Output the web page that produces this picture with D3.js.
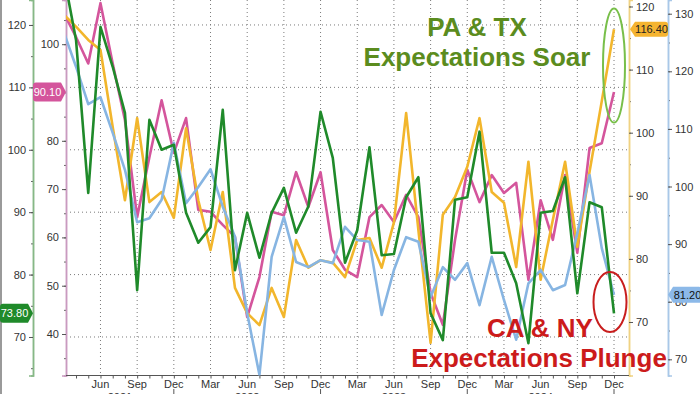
<!DOCTYPE html>
<html><head><meta charset="utf-8">
<script src="https://cdn.jsdelivr.net/npm/d3@7"></script>
<style>body{margin:0;background:#fff;} svg{display:block;font-family:"Liberation Sans",Arial,sans-serif;}</style>
</head><body><svg id="c" width="700" height="394"></svg>
<script>
const months = ["Mar","Apr","May","Jun","Jul","Aug","Sep","Oct","Nov","Dec",
  "Jan","Feb","Mar","Apr","May","Jun","Jul","Aug","Sep","Oct","Nov","Dec",
  "Jan","Feb","Mar","Apr","May","Jun","Jul","Aug","Sep","Oct","Nov","Dec",
  "Jan","Feb","Mar","Apr","May","Jun","Jul","Aug","Sep","Oct","Nov","Dec"];
const years = ["2021","2022","2023","2024"];
const labeledMonths = ["Mar","Jun","Sep","Dec"];
// CA-like (green, far-left axis)
const green = [128,117.6,93.1,119.7,113.3,105.9,77.5,104.8,100,100.8,89.9,85.1,87.6,106.4,80.7,89.9,82.7,89.9,93.9,86.7,90.9,106.1,98.7,81.9,87.1,100.4,83.1,83.3,92.4,95.6,73.8,69.5,92,92.4,102.9,83.5,83.5,78.6,69,89.9,90.2,95.6,77,91.6,90.8,73.8];
// pink (second left axis)
const pink = [106.4,101.5,96,108.5,96,84.3,64.2,76.6,88.4,77.5,84.7,65.7,65.3,62.6,60.1,43.5,51.8,65.3,64.6,73.5,66.3,73.5,57.4,53.3,51.8,64.2,66.7,63.2,68.8,64.2,48.5,41.9,59.5,74,67.3,72.9,69.2,71.3,51.2,67.7,59.5,72.9,56.8,78.5,79.5,90.1];
// orange (first right axis)
const orange = [118.7,116.8,114.7,113.1,100.9,89.3,102.3,89,90.6,86.5,100.7,89.3,81.4,90.6,75.4,71.4,69.5,75.4,70.8,83,78.6,79.8,79.4,77.1,83,83.3,78.6,85.8,103.1,84.6,66.7,87,89.8,94.6,102.3,90.6,88.9,78.7,95.4,76.7,86.2,95.4,81.9,93.8,105,116.4];
// blue (far right axis)
const blue = [126.8,120.8,114.3,115.5,109.3,102.9,93.8,94.5,97.7,107.6,97.1,99.9,103,96.5,91.3,78,67.3,87.8,94.7,86.9,86,87.2,86.7,93,90.7,90.4,77.7,85.5,91.2,90.4,80.8,86,83.8,86.7,79.4,87.8,80.3,73.4,83.2,85.5,82,82.9,91.9,102,89.3,81.2];
const greenTicks = [70,80,90,100,110,120];
const pinkTicks = [40,50,60,70,80,100];
const orangeTicks = [70,80,90,100,110,120];
const blueTicks = [70,80,90,100,110,120,130];

const svg = d3.select("#c");
const L = 66, R = 629, T = 0, B = 375.5;
const x = d3.scaleLinear().domain([0, months.length - 1]).range([63.8, 614]);
const yG = d3.scaleLinear().domain([63.83, 124.0]).range([B, T]);
const yP = d3.scaleLinear().domain([31.41, 109.15]).range([B, T]);
const yO = d3.scaleLinear().domain([61.52, 121.03]).range([B, T]);
const yB = d3.scaleLinear().domain([67.19, 132.38]).range([B, T]);

const col = {green:"#1f8a2a", pink:"#d4559c", orange:"#f2b62c", blue:"#87b5e2"};
const axisCol = {green:"#86b886", pink:"#c99ac0", orange:"#f0d282", blue:"#a9c8e8"};

// left frame
svg.append("rect").attr("x",0).attr("y",0).attr("width",2).attr("height",394).attr("fill","#9a9a9a");

// grid
const qIdx = d3.range(months.length).filter(i => labeledMonths.includes(months[i]) && x(i) > L);
svg.append("g").selectAll("line").data(qIdx).join("line")
  .attr("x1", d => x(d)).attr("x2", d => x(d)).attr("y1", T).attr("y2", B)
  .attr("stroke","#7a7a7a").attr("stroke-dasharray","1,3");
svg.append("g").selectAll("line").data(greenTicks).join("line")
  .attr("x1", L).attr("x2", R).attr("y1", d => yG(d)).attr("y2", d => yG(d))
  .attr("stroke","#7a7a7a").attr("stroke-dasharray","1,3");

function yAxis(scale, ticks, xPos, side, c) {
  const mk = side === "left" ? d3.axisLeft : d3.axisRight;
  const minor = d3.range(30, 140, 5).filter(v => v >= scale.domain()[0] && v <= scale.domain()[1]);
  const gm = svg.append("g").attr("transform", `translate(${xPos},0)`)
    .call(mk(scale).tickValues(minor).tickSize(2).tickFormat(""));
  gm.select(".domain").attr("stroke", c).attr("stroke-width", 1.5);
  gm.selectAll(".tick line").attr("stroke", "#666");
  const g = svg.append("g").attr("transform", `translate(${xPos},0)`)
    .call(mk(scale).tickValues(ticks).tickSize(4).tickPadding(3));
  g.select(".domain").attr("stroke", c).attr("stroke-width", 1.5);
  g.selectAll(".tick line").attr("stroke", "#555");
  g.selectAll(".tick text").attr("fill", "#333").attr("font-size", 11);
}
yAxis(yG, greenTicks, 33, "left", axisCol.green);
yAxis(yP, pinkTicks, 66, "left", axisCol.pink);
yAxis(yO, orangeTicks, 629, "right", axisCol.orange);
yAxis(yB, blueTicks, 668, "right", axisCol.blue);

// x axis
const gx = svg.append("g").attr("transform", `translate(0,${B})`)
  .call(d3.axisBottom(x).tickValues(d3.range(1, months.length)).tickSize(3).tickFormat(""));
gx.select(".domain").attr("stroke","#555").attr("d", `M${L},0H${R}`);
gx.selectAll(".tick line").attr("stroke","#555");
svg.append("g").selectAll("text").data(qIdx).join("text")
  .attr("x", d => x(d)).attr("y", 388).attr("text-anchor","middle")
  .attr("font-size", 11).attr("fill","#333").text(d => months[d]);
const decIdx = d3.range(months.length).filter(i => months[i] === "Dec");
svg.append("g").selectAll("line").data(decIdx).join("line")
  .attr("x1", d => x(d)).attr("x2", d => x(d)).attr("y1", 389).attr("y2", 394).attr("stroke","#555");
const yearBounds = [L].concat(decIdx.map(d => x(d)));
svg.append("g").selectAll("text").data(years).join("text")
  .attr("x", (d,i) => (yearBounds[i] + yearBounds[i+1]) / 2).attr("y", 401)
  .attr("text-anchor","middle").attr("font-size", 11).attr("fill","#333").text(d => d);

// lines
svg.append("clipPath").attr("id","clip").append("rect").attr("x",L).attr("y",T).attr("width",R-L).attr("height",B-T);
const plot = svg.append("g").attr("clip-path","url(#clip)");
const series = [
  {v: pink, y: yP, c: col.pink},
  {v: orange, y: yO, c: col.orange},
  {v: blue, y: yB, c: col.blue},
  {v: green, y: yG, c: col.green}
];
series.forEach(s => {
  plot.append("path").datum(s.v)
    .attr("d", d3.line().x((d,i) => x(i)).y(d => s.y(d)))
    .attr("fill","none").attr("stroke", s.c).attr("stroke-width", 2.6)
    .attr("stroke-linejoin","round");
});

// ellipses
const last = months.length - 1;
svg.append("ellipse").attr("cx", x(last)).attr("cy", (yO(orange[last]) + yP(pink[last]))/2 + 5)
  .attr("rx", 11).attr("ry", 57).attr("fill","none").attr("stroke","#78bf4a").attr("stroke-width", 2);
svg.append("ellipse").attr("cx", x(last) - 4).attr("cy", (yG(green[last]) + yB(blue[last]))/2 - 2)
  .attr("rx", 16.5).attr("ry", 30).attr("fill","none").attr("stroke","#c81e1e").attr("stroke-width", 2);

// annotations
const ann = svg.append("g").attr("font-weight","bold").attr("font-size", 26).attr("text-anchor","middle");
ann.append("text").attr("x", 477).attr("y", 36).attr("fill","#5b8c1e").text("PA & TX");
ann.append("text").attr("x", 477).attr("y", 66).attr("fill","#5b8c1e").text("Expectations Soar");
ann.append("text").attr("x", 540).attr("y", 337).attr("fill","#cc1b1b").text("CA & NY");
ann.append("text").attr("x", 539).attr("y", 367).attr("fill","#cc1b1b").text("Expectations Plunge");

// value tags
function tag(xEdge, yc, w, h, side, bg, fg, txt) {
  const g = svg.append("g");
  let p;
  if (side === "left") {
    const x0 = xEdge - w;
    p = `M${x0+3},${yc-h/2}H${xEdge-5}L${xEdge},${yc}L${xEdge-5},${yc+h/2}H${x0+3}Q${x0},${yc+h/2} ${x0},${yc+h/2-3}V${yc-h/2+3}Q${x0},${yc-h/2} ${x0+3},${yc-h/2}Z`;
    g.append("path").attr("d", p).attr("fill", bg);
    g.append("text").attr("x", x0 + (w-4)/2).attr("y", yc + 4).attr("text-anchor","middle")
      .attr("font-size", 11).attr("fill", fg).text(txt);
  } else {
    const x1 = xEdge + w;
    p = `M${xEdge},${yc}L${xEdge+5},${yc-h/2}H${x1-3}Q${x1},${yc-h/2} ${x1},${yc-h/2+3}V${yc+h/2-3}Q${x1},${yc+h/2} ${x1-3},${yc+h/2}H${xEdge+5}Z`;
    g.append("path").attr("d", p).attr("fill", bg);
    g.append("text").attr("x", xEdge + 5 + (w-5)/2).attr("y", yc + 4).attr("text-anchor","middle")
      .attr("font-size", 11).attr("fill", fg).text(txt);
  }
}
tag(33, yG(green[last]), 33, 19, "left", "#1f8a2a", "#fff", d3.format(".2f")(green[last]));
tag(66, yP(pink[last]), 33, 19, "left", "#d4559c", "#fff", d3.format(".2f")(pink[last]));
tag(630, yO(orange[last]), 38, 15, "right", "#f5b430", "#222", d3.format(".2f")(orange[last]));
tag(668, yB(blue[last]), 34, 16, "right", "#8cb9e8", "#111", d3.format(".2f")(blue[last]));
</script></body></html>
